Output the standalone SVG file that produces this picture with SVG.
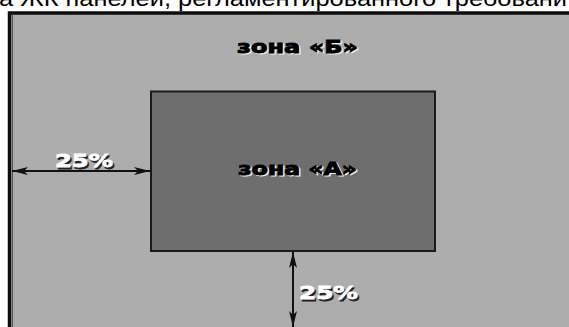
<svg xmlns="http://www.w3.org/2000/svg" width="569" height="327" viewBox="0 0 569 327">
<style>
.top{font-family:"Liberation Sans",Arial,sans-serif;font-size:22px;fill:#000}
.zone{font-family:"DejaVu Sans",sans-serif;font-weight:bold;font-size:18px}
.pct{font-family:"DejaVu Sans",sans-serif;font-weight:bold;font-size:18px}
.line{stroke:#111;stroke-width:2;fill:none}
</style>
<defs>
<marker id="ah" viewBox="0 0 16 8" refX="16" refY="4" markerWidth="16" markerHeight="8" markerUnits="userSpaceOnUse" orient="auto-start-reverse">
<path d="M0,0 L16,4 L0,8 L4,4 Z" fill="#111"/>
</marker>
</defs>
<rect x="0" y="0" width="569" height="327" fill="#fff"/>
<text class="top" x="-1" y="6" textLength="568" lengthAdjust="spacingAndGlyphs">а ЖК панелей, регламентированного требовани</text>
<g id="zoneB">
<rect x="9.5" y="13" width="570" height="330" fill="#adadad" stroke="#0d0d0d" stroke-width="3.5"/>
<line x1="12.5" y1="15" x2="12.5" y2="327" stroke="#555" stroke-width="1"/>
<text class="zone" x="238.5" y="54" textLength="121" lengthAdjust="spacingAndGlyphs" fill="#eee" stroke="#eee" stroke-width="0.9">зона «Б»</text>
<text class="zone" x="237" y="53" textLength="121" lengthAdjust="spacingAndGlyphs" fill="#000" stroke="#000" stroke-width="0.9">зона «Б»</text>
</g>
<g id="zoneA">
<rect x="151" y="91.5" width="284" height="159.5" fill="#6e6e6e" stroke="#1a1a1a" stroke-width="2"/>
<text class="zone" x="239.5" y="176" textLength="119" lengthAdjust="spacingAndGlyphs" fill="#eee" stroke="#eee" stroke-width="0.9">зона «А»</text>
<text class="zone" x="238" y="175" textLength="119" lengthAdjust="spacingAndGlyphs" fill="#000" stroke="#000" stroke-width="0.9">зона «А»</text>
</g>
<g id="connectors">
<line class="line" x1="12" y1="171" x2="150" y2="171" marker-start="url(#ah)" marker-end="url(#ah)"/>
<line class="line" x1="293" y1="252" x2="293" y2="327" marker-start="url(#ah)" marker-end="url(#ah)"/>
</g>
<g id="label-left">
<text class="pct" x="56.5" y="168.5" textLength="58" lengthAdjust="spacingAndGlyphs" fill="#222" stroke="#222" stroke-width="0.8">25%</text>
<text class="pct" x="55" y="167" textLength="58" lengthAdjust="spacingAndGlyphs" fill="#fff" stroke="#fff" stroke-width="0.8">25%</text>
</g>
<g id="label-bottom">
<text class="pct" x="300.5" y="300.5" textLength="59" lengthAdjust="spacingAndGlyphs" fill="#222" stroke="#222" stroke-width="0.8">25%</text>
<text class="pct" x="299" y="299" textLength="59" lengthAdjust="spacingAndGlyphs" fill="#fff" stroke="#fff" stroke-width="0.8">25%</text>
</g>
</svg>
